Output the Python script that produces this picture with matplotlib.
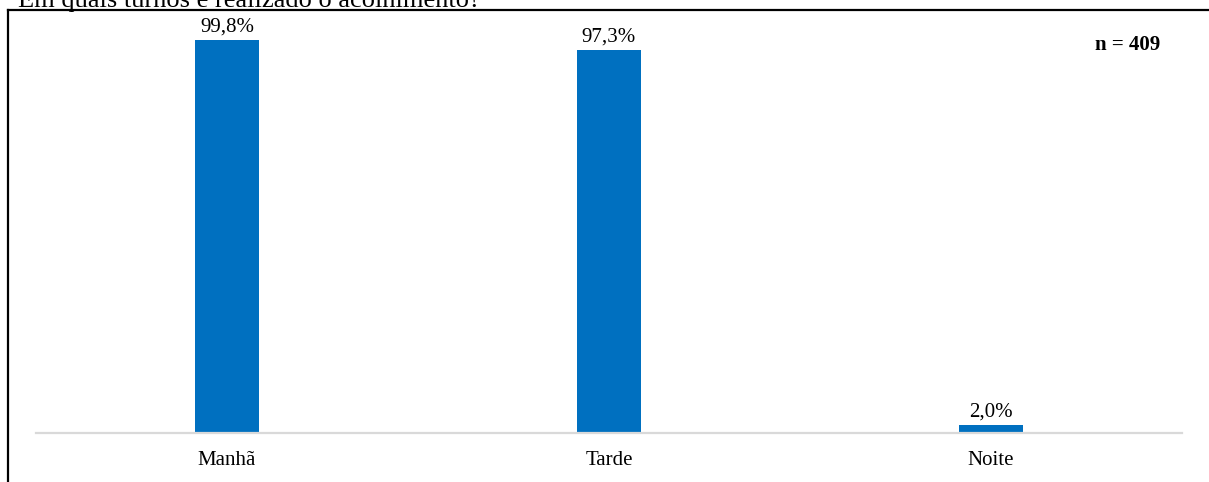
import matplotlib.pyplot as plt
from matplotlib.lines import Line2D

categorias = ["Manhã", "Tarde", "Noite"]
percentuais = [99.8, 97.3, 2.0]
rotulos = ["99,8%", "97,3%", "2,0%"]
titulo = "Em quais turnos é realizado o acolhimento?"
amostra = "n = 409"

W, H = 1209, 482
fig = plt.figure(figsize=(W / 100, H / 100), dpi=100)
plt.rcParams['font.family'] = ['Liberation Serif', 'DejaVu Serif']
fs = 15

# plot area in pixels: x 36..1182, baseline at y=433
x0, x1 = 36, 1182
y_base, y_top = 433, 24
ax = fig.add_axes([x0 / W, (H - y_base) / H, (x1 - x0) / W, (y_base - y_top) / H])

px_per_pct = (433 - 40) / 99.8
ax.set_ylim(0, (y_base - y_top) / px_per_pct)
ax.set_xlim(-0.5, len(categorias) - 0.5)

pos = range(len(categorias))
barras = ax.bar(pos, percentuais, width=64 / 382, color="#0070C0")
for b, txt in zip(barras, rotulos):
    ax.annotate(txt, (b.get_x() + b.get_width() / 2, b.get_height()),
                xytext=(0, 2.5), textcoords="offset points",
                ha="center", va="bottom", fontsize=fs)

ax.set_xticks(list(pos))
ax.set_xticklabels(categorias, fontsize=fs)
ax.tick_params(axis="x", length=0, pad=13)
ax.set_yticks([])
for s in ["top", "right", "left"]:
    ax.spines[s].set_visible(False)
ax.spines["bottom"].set_color("#d9d9d9")
ax.spines["bottom"].set_linewidth(1.6)

ax.text(1160 / W, (H - 50) / H, amostra, transform=fig.transFigure,
        ha="right", va="baseline", fontsize=fs, fontweight="bold")

# outer frame (left and top edges only visible)
fig.add_artist(Line2D([7.5 / W, 7.5 / W], [0, (H - 9.5) / H], color="black", lw=1.6,
                      transform=fig.transFigure))
fig.add_artist(Line2D([7.5 / W, 1], [(H - 9.5) / H, (H - 9.5) / H], color="black", lw=1.6,
                      transform=fig.transFigure))

fig.text(18 / W, (H - 7) / H, titulo, ha="left", va="baseline", fontsize=19)

fig.savefig("out.png", dpi=100)
